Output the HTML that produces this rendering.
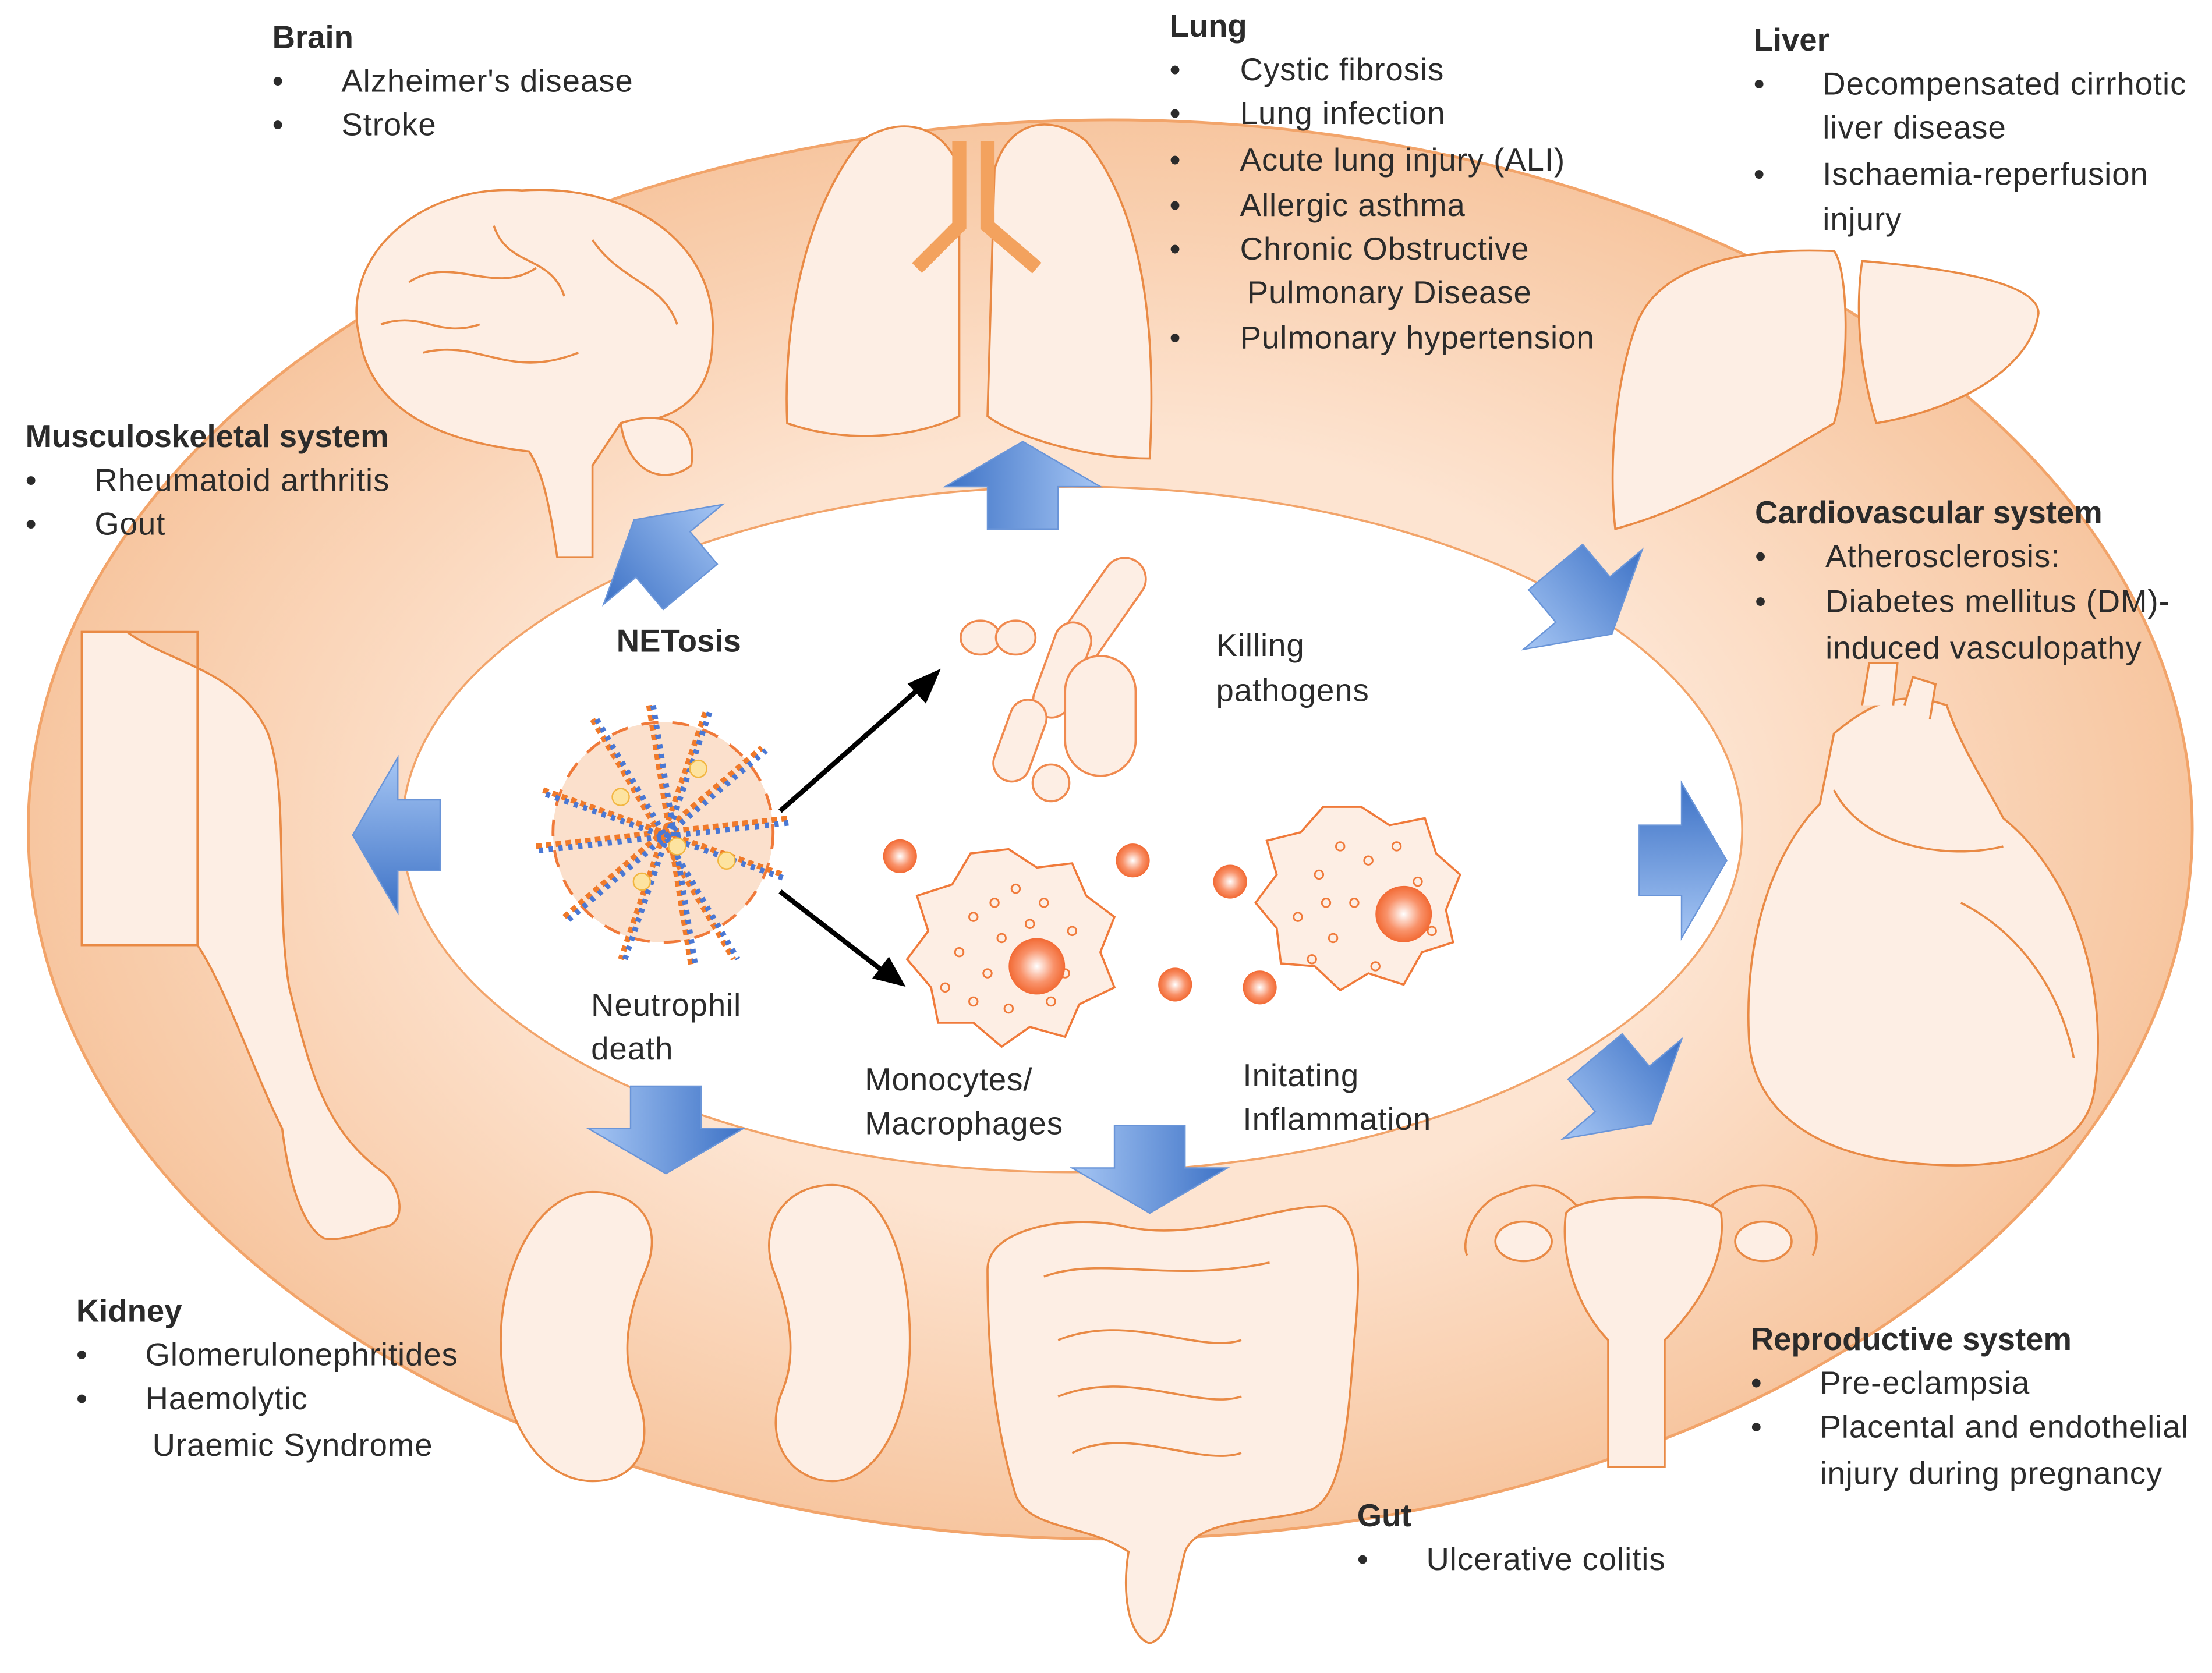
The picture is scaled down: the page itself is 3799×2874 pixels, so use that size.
<!DOCTYPE html>
<html><head><meta charset="utf-8"><style>
html,body{margin:0;padding:0;background:#fff;}
svg{display:block}
text{font-family:"Liberation Sans",sans-serif;fill:#2b2b2b;font-size:22.5px;letter-spacing:0.4px}
.b{font-weight:bold;letter-spacing:0}
</style></head><body>
<svg width="3799" height="2874" viewBox="0 0 1568 1186" preserveAspectRatio="none" xmlns="http://www.w3.org/2000/svg">
<defs>
<radialGradient id="ring" cx="50%" cy="50%" r="50%">
<stop offset="0.55" stop-color="#fde4d1"/><stop offset="1" stop-color="#f7c6a0"/>
</radialGradient>
<linearGradient id="blue" x1="0" y1="0" x2="1" y2="0">
<stop offset="0" stop-color="#3d72c6"/><stop offset="1" stop-color="#a6c6f4"/>
</linearGradient>
<radialGradient id="ball" cx="50%" cy="50%" r="50%">
<stop offset="0" stop-color="#fff"/><stop offset="0.6" stop-color="#f9926a"/><stop offset="1" stop-color="#f26a34"/>
</radialGradient>
<path id="arr" d="M0,-32 L55,0 L25,0 L25,30 L-25,30 L-25,0 L-55,0 Z"/>
</defs>
<rect width="1568" height="1186" fill="#fff"/>
<ellipse cx="787" cy="588" rx="767" ry="503" fill="url(#ring)" stroke="#f2a46a" stroke-width="2"/>
<ellipse cx="760" cy="588" rx="475" ry="243" fill="#fff" stroke="#f2a46a" stroke-width="1.5"/>

<g fill="#fdeee4" stroke="#e98a45" stroke-width="1.5">
<!-- brain -->
<path d="M255,240 C240,180 300,130 370,135 C450,130 510,175 505,240 C505,280 480,300 440,300 L420,330 L420,395 L395,395 C390,360 385,335 375,320 C330,315 265,300 255,240 Z"/>
<path d="M440,300 C470,290 495,300 490,330 C470,345 445,335 440,300 Z"/>
<path d="M290,200 C320,180 350,210 380,190 M300,250 C340,240 360,270 410,250 M420,170 C440,200 470,200 480,230 M270,230 C300,220 310,240 340,230 M350,160 C360,190 390,180 400,210" fill="none"/>
<!-- lungs -->
<path d="M680,120 C670,90 640,80 610,100 C570,150 555,230 558,300 C600,315 650,310 680,295 Z"/>
<path d="M705,120 C715,85 745,80 770,100 C810,150 820,230 815,325 C770,325 720,310 700,295 Z"/>
<path d="M680,100 L680,160 L650,190 M700,100 L700,160 L735,190" fill="none" stroke="#f3a25e" stroke-width="10"/>
<!-- liver -->
<path d="M1160,230 C1175,190 1230,175 1300,178 C1310,190 1312,260 1300,300 C1250,330 1200,360 1145,375 C1140,330 1145,270 1160,230 Z"/>
<path d="M1320,185 C1380,190 1445,200 1445,222 C1440,260 1390,290 1330,300 C1318,260 1315,220 1320,185 Z"/>
<!-- heart -->
<path d="M1300,520 C1330,495 1350,490 1380,500 C1390,530 1410,560 1420,580 C1470,620 1495,700 1485,770 C1480,820 1420,830 1360,825 C1290,820 1245,790 1240,740 C1235,660 1260,600 1290,570 Z"/>
<path d="M1320,500 L1325,470 L1345,470 L1342,500 M1350,500 L1356,480 L1372,485 L1368,510" />
<path d="M1300,560 C1320,600 1380,610 1420,600 M1390,640 C1430,660 1460,700 1470,750" fill="none"/>
<!-- uterus -->
<path d="M1130,870 C1110,840 1090,835 1070,845 C1045,850 1035,880 1040,890 M1200,870 C1220,840 1250,835 1270,845 C1290,860 1290,880 1285,890" fill="none"/>
<path d="M1110,860 C1120,845 1210,845 1220,860 C1225,900 1195,935 1180,950 L1180,1040 L1140,1040 L1140,950 C1125,935 1105,900 1110,860 Z"/>
<ellipse cx="1080" cy="880" rx="20" ry="14"/><ellipse cx="1250" cy="880" rx="20" ry="14"/>
<!-- kidneys -->
<path d="M420,845 C380,845 355,900 355,950 C355,1010 385,1050 420,1050 C455,1050 465,1020 450,985 C440,960 445,930 458,900 C470,870 455,845 420,845 Z"/>
<path d="M590,840 C625,840 645,890 645,950 C645,1010 620,1050 590,1050 C560,1050 540,1020 555,985 C565,960 560,930 548,900 C538,870 555,840 590,840 Z"/>
<!-- intestine -->
<path d="M700,900 C700,870 760,860 800,870 C850,880 900,855 940,855 C965,860 965,900 960,950 C955,1020 950,1060 930,1070 C900,1080 850,1075 840,1100 C830,1140 830,1160 815,1165 C800,1160 795,1130 800,1100 C770,1080 730,1085 720,1060 C705,1010 700,960 700,900 Z"/>
<path d="M750,950 C800,930 850,960 880,950 M750,990 C800,970 850,1000 880,990 M760,1030 C800,1010 850,1040 880,1030 M740,905 C780,890 830,910 900,895" fill="none"/>
<!-- body/arm -->
<path d="M58,448 L90,448 C120,470 170,475 190,520 C205,560 195,640 205,700 C220,760 230,800 270,830 C285,840 290,870 270,870 C255,875 240,880 230,878 C215,870 205,840 200,800 C180,760 160,700 140,670 L58,670 Z"/>
<rect x="58" y="448" width="82" height="222" fill="none"/>
</g>

<!-- bacteria -->
<g fill="#fdeee4" stroke="#f08a4f" stroke-width="1.5">
<ellipse cx="695" cy="452" rx="14" ry="12"/><ellipse cx="720" cy="452" rx="14" ry="12"/>
<rect x="765" y="390" width="30" height="90" rx="15" transform="rotate(35 780 435)"/>
<rect x="740" y="440" width="26" height="70" rx="13" transform="rotate(20 753 475)"/>
<rect x="755" y="465" width="50" height="85" rx="25"/>
<rect x="710" y="495" width="26" height="60" rx="13" transform="rotate(20 723 525)"/>
<circle cx="745" cy="555" r="13"/>
</g>

<!-- NET -->
<g>
<circle cx="470" cy="590" r="78" fill="#fbe0cc" stroke="#f07a3a" stroke-width="2" stroke-dasharray="12 10"/>
<g stroke-width="4" fill="none">
<path d="M380,600 L560,580 M420,510 L520,680 M500,505 L440,680 M385,560 L555,620 M460,500 L490,685 M400,650 L540,530" stroke="#f07a2a" stroke-dasharray="4 3"/>
<path d="M382,603 L562,583 M423,510 L523,680 M503,505 L443,680 M387,563 L557,623 M463,500 L493,685 M403,652 L543,532" stroke="#4a78d4" stroke-dasharray="3 4"/>
</g>
<g fill="#fde3a0" stroke="#f2b640"><circle cx="440" cy="565" r="6"/><circle cx="495" cy="545" r="6"/><circle cx="480" cy="600" r="6"/><circle cx="515" cy="610" r="6"/><circle cx="455" cy="625" r="6"/></g>
</g>
<path d="M553,575 L655,485" stroke="#000" stroke-width="3.5"/><path d="M665,476 L645,485 L656,497 Z" fill="#000" stroke="#000" stroke-width="2"/>
<path d="M553,632 L628,690" stroke="#000" stroke-width="3.5"/><path d="M640,698 L620,693 L630,680 Z" fill="#000" stroke="#000" stroke-width="2"/>

<!-- macrophages -->
<g fill="#fdeee4" stroke="#f07a3a" stroke-width="1.5">
<path d="M715,602 L735,615 L760,612 L770,635 L790,650 L780,675 L790,700 L765,712 L755,735 L730,728 L710,742 L690,725 L665,725 L660,700 L643,680 L658,660 L650,635 L675,627 L688,605 Z"/>
<path d="M965,572 L985,585 L1010,580 L1018,605 L1035,620 L1025,645 L1030,668 L1008,675 L995,698 L970,690 L950,702 L932,685 L908,683 L905,658 L890,640 L905,620 L898,596 L922,590 L938,572 Z"/>
</g>
<g fill="none" stroke="#f07a3a" stroke-width="1.2">
<circle cx="690" cy="650" r="3"/><circle cx="705" cy="640" r="3"/><circle cx="720" cy="630" r="3"/><circle cx="740" cy="640" r="3"/><circle cx="680" cy="675" r="3"/><circle cx="700" cy="690" r="3"/><circle cx="690" cy="710" r="3"/><circle cx="760" cy="660" r="3"/><circle cx="755" cy="690" r="3"/><circle cx="715" cy="715" r="3"/><circle cx="730" cy="655" r="3"/><circle cx="670" cy="700" r="3"/><circle cx="710" cy="665" r="3"/><circle cx="745" cy="710" r="3"/>
<circle cx="935" cy="620" r="3"/><circle cx="950" cy="600" r="3"/><circle cx="970" cy="610" r="3"/><circle cx="990" cy="600" r="3"/><circle cx="920" cy="650" r="3"/><circle cx="945" cy="665" r="3"/><circle cx="930" cy="680" r="3"/><circle cx="1005" cy="625" r="3"/><circle cx="960" cy="640" r="3"/><circle cx="1015" cy="660" r="3"/><circle cx="975" cy="685" r="3"/><circle cx="940" cy="640" r="3"/>
</g>
<g fill="url(#ball)">
<circle cx="735" cy="685" r="20"/><circle cx="995" cy="648" r="20"/>
<circle cx="638" cy="607" r="12"/><circle cx="803" cy="610" r="12"/><circle cx="872" cy="625" r="12"/><circle cx="833" cy="698" r="12"/><circle cx="893" cy="700" r="12"/>
</g>

<!-- arrows -->
<g fill="url(#blue)" stroke="#6a95d8" stroke-width="1">
<use href="#arr" transform="translate(725,345)"/>
<use href="#arr" transform="translate(470,393) rotate(-40)"/>
<use href="#arr" transform="translate(1122,425) rotate(140)"/>
<use href="#arr" transform="translate(282,592) rotate(-90)"/>
<use href="#arr" transform="translate(1192,610) rotate(90)"/>
<use href="#arr" transform="translate(1150,772) rotate(140)"/>
<use href="#arr" transform="translate(472,800) rotate(180)"/>
<use href="#arr" transform="translate(815,828) rotate(180)"/>
</g>

<!-- text -->
<text x="193" y="34" class="b">Brain</text>
<text x="193" y="65">•</text><text x="242" y="65">Alzheimer's disease</text>
<text x="193" y="96">•</text><text x="242" y="96">Stroke</text>

<text x="829" y="26" class="b">Lung</text>
<text x="829" y="57">•</text><text x="879" y="57">Cystic fibrosis</text>
<text x="829" y="88">•</text><text x="879" y="88">Lung infection</text>
<text x="829" y="121">•</text><text x="879" y="121">Acute lung injury (ALI)</text>
<text x="829" y="153">•</text><text x="879" y="153">Allergic asthma</text>
<text x="829" y="184">•</text><text x="879" y="184">Chronic Obstructive</text>
<text x="884" y="215">Pulmonary  Disease</text>
<text x="829" y="247">•</text><text x="879" y="247">Pulmonary  hypertension</text>

<text x="1243" y="36" class="b">Liver</text>
<text x="1243" y="67">•</text><text x="1292" y="67">Decompensated cirrhotic</text>
<text x="1292" y="98">liver disease</text>
<text x="1243" y="131">•</text><text x="1292" y="131">Ischaemia-reperfusion</text>
<text x="1292" y="163">injury</text>

<text x="18" y="317" class="b">Musculoskeletal system</text>
<text x="18" y="348">•</text><text x="67" y="348">Rheumatoid arthritis</text>
<text x="18" y="379">•</text><text x="67" y="379">Gout</text>

<text x="1244" y="371" class="b">Cardiovascular system</text>
<text x="1244" y="402">•</text><text x="1294" y="402">Atherosclerosis:</text>
<text x="1244" y="434">•</text><text x="1294" y="434">Diabetes mellitus (DM)-</text>
<text x="1294" y="467">induced vasculopathy</text>

<text x="437" y="462" class="b">NETosis</text>
<text x="862" y="465">Killing</text>
<text x="862" y="497">pathogens</text>
<text x="419" y="720">Neutrophil</text>
<text x="419" y="751">death</text>
<text x="613" y="773">Monocytes/</text>
<text x="613" y="804">Macrophages</text>
<text x="881" y="770">Initating</text>
<text x="881" y="801">Inflammation</text>

<text x="54" y="937" class="b">Kidney</text>
<text x="54" y="968">•</text><text x="103" y="968">Glomerulonephritides</text>
<text x="54" y="999">•</text><text x="103" y="999">Haemolytic</text>
<text x="108" y="1032">Uraemic Syndrome</text>

<text x="1241" y="957" class="b">Reproductive system</text>
<text x="1241" y="988">•</text><text x="1290" y="988">Pre-eclampsia</text>
<text x="1241" y="1019">•</text><text x="1290" y="1019">Placental and endothelial</text>
<text x="1290" y="1052">injury during pregnancy</text>

<text x="962" y="1082" class="b">Gut</text>
<text x="962" y="1113">•</text><text x="1011" y="1113">Ulcerative colitis</text>
</svg>
</body></html>
